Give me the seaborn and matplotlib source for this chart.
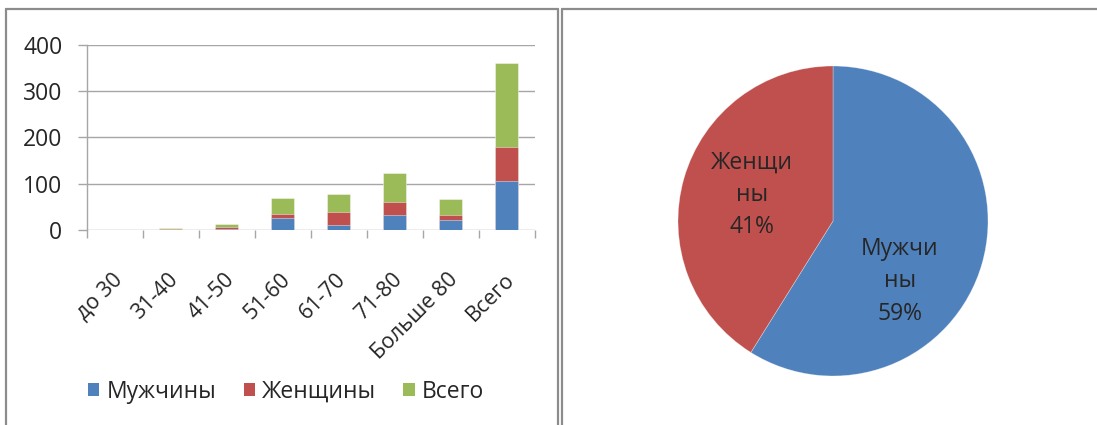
import matplotlib
matplotlib.use("Agg")
import matplotlib.pyplot as plt
import matplotlib.transforms as mtransforms
from matplotlib.lines import Line2D
from matplotlib.patches import Patch
import numpy as np
import pandas as pd
import seaborn as sns

# Age groups and counts
categories = ["до 30", "31-40", "41-50", "51-60", "61-70", "71-80", "Больше 80", "Всего"]
men = [0, 1, 3, 26, 11, 33, 22, 106]
women = [0, 1, 3, 9, 28, 28, 11, 74]
total = [0, 2, 6, 35, 39, 61, 33, 180]

series_names = ["Мужчины", "Женщины", "Всего"]
colors = ["#4F81BD", "#C0504D", "#9BBB59"]
y_ticks = [0, 100, 200, 300, 400]

sns.set_theme(style="white")
plt.rcParams["font.family"] = ["Open Sans", "DejaVu Sans"]
TXT = "#262626"
GRID = "#A6A6A6"
FS = 16.5

W, H = 1097, 425
fig = plt.figure(figsize=(W / 100, H / 100), dpi=100)
fig.patch.set_facecolor("white")


def fx(px):
    return px / W


def fy(py):
    return 1 - py / H


# ---- stacked bar chart ----
df = pd.DataFrame({"group": categories, "men": men, "women": women, "total": total})
df["s1"] = df["men"]
df["s2"] = df["men"] + df["women"]
df["s3"] = df["s2"] + df["total"]

ax = fig.add_axes([fx(86.8), fy(230), fx(534.6 - 86.8), (230 - 44.5) / H])
for col, c in zip(["s3", "s2", "s1"], colors[::-1]):
    sns.barplot(data=df, x="group", y=col, order=categories, color=c,
                width=0.41, saturation=1, ax=ax, linewidth=0.6,
                edgecolor=(1, 1, 1, 0.5))

ax.set_ylim(0, 400)
ax.set_xlim(-0.5, len(categories) - 0.5)
ax.set_yticks(y_ticks)
ax.set_yticklabels([str(t) for t in y_ticks], fontsize=FS, color=TXT)
ax.set_xlabel("")
ax.set_ylabel("")
ax.yaxis.grid(True, color=GRID, linewidth=1)
ax.set_axisbelow(True)
for s in ["top", "right", "bottom"]:
    ax.spines[s].set_visible(False)
ax.spines["left"].set_color(GRID)
ax.spines["left"].set_linewidth(1)
ax.tick_params(axis="y", length=6.5, width=1, color=GRID, pad=11, left=True)

# category separators along the bottom axis
ax.set_xticks(np.arange(-0.5, len(categories), 1.0), minor=True)
ax.tick_params(axis="x", which="minor", length=6, width=1, color=GRID, bottom=True)
ax.set_xticks(range(len(categories)))
ax.set_xticklabels(categories, rotation=45, ha="right", rotation_mode="anchor",
                   fontsize=15.5, color=TXT)
ax.tick_params(axis="x", which="major", length=0, pad=28)
shift = mtransforms.ScaledTranslation(-3 / 100, 0, fig.dpi_scale_trans)
for lbl in ax.get_xticklabels():
    lbl.set_transform(lbl.get_transform() + shift)

handles = [Patch(facecolor=c, edgecolor="none") for c in colors]
fig.legend(handles, series_names, loc="center", bbox_to_anchor=(fx(286), fy(392)),
           ncol=3, frameon=False, fontsize=FS, handlelength=0.5, handleheight=0.5,
           handletextpad=0.3, columnspacing=1.2, labelcolor=TXT)

# ---- pie chart ----
pie_vals = [men[-1], women[-1]]
pie_names = ["Мужчи\nны", "Женщи\nны"]
R = 155
ax2 = fig.add_axes([fx(833 - R), fy(221 + R), fx(2 * R), 2 * R / H])
ax2.pie(pie_vals, colors=colors[:2], startangle=90, counterclock=False, radius=1,
        wedgeprops=dict(linewidth=0.5, edgecolor=(1, 1, 1, 0.4)))
ax2.set_xlim(-1, 1)
ax2.set_ylim(-1, 1)
ax2.set_aspect("equal")
ax2.axis("off")
pcts = [round(v / sum(pie_vals) * 100) for v in pie_vals]
label_pos = [(0.43, -0.39), (-0.52, 0.17)]
for name, p, (lx, ly) in zip(pie_names, pcts, label_pos):
    ax2.text(lx, ly, f"{name}\n{p}%", ha="center", va="center", fontsize=FS,
             color=TXT, linespacing=1.45)

# ---- panel frames ----
FRAME = "#8C8C8C"
for xs, ys in [([6, 6], [H + 5, 9]), ([6, 557.5], [9, 9]), ([557.5, 557.5], [9, H + 5]),
               ([561.5, 561.5], [H + 5, 9]), ([561.5, W + 5], [9, 9])]:
    fig.add_artist(Line2D([fx(x) for x in xs], [fy(y) for y in ys],
                          color=FRAME, linewidth=1.6, transform=fig.transFigure))

fig.savefig("out.png", dpi=100)
